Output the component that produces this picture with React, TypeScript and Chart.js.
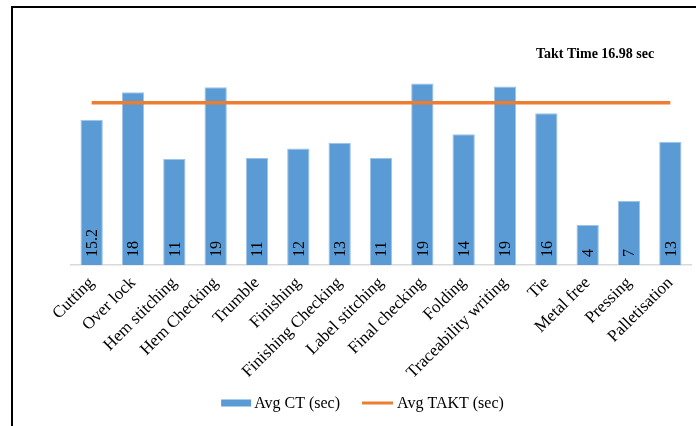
import React, { useEffect, useRef } from "react";
import { Chart, registerables } from "chart.js";

Chart.register(...registerables);

const categories = [
  "Cutting",
  "Over lock",
  "Hem stitching",
  "Hem Checking",
  "Trumble",
  "Finishing",
  "Finishing Checking",
  "Label stitching",
  "Final checking",
  "Folding",
  "Traceability writing",
  "Tie",
  "Metal free",
  "Pressing",
  "Palletisation",
];

const avgCT = [15.2, 18.1, 11.1, 18.6, 11.2, 12.2, 12.8, 11.2, 19.0, 13.7, 18.7, 15.9, 4.2, 6.7, 12.9];
const ctLabels = ["15.2", "18", "11", "19", "11", "12", "13", "11", "19", "14", "19", "16", "4", "7", "13"];
const avgTakt = [16.98, 16.98, 16.98, 16.98, 16.98, 16.98, 16.98, 16.98, 16.98, 16.98, 16.98, 16.98, 16.98, 16.98, 16.98];
const taktNote = "Takt Time 16.98 sec";

const SERIF = '"Liberation Serif", "Times New Roman", serif';

const labelPlugin = {
  id: "ctLabels",
  afterDatasetsDraw(chart: any) {
    const ctx = chart.ctx;
    const meta = chart.getDatasetMeta(0);
    const bottom = chart.chartArea.bottom;
    ctx.save();
    ctx.font = `16px ${SERIF}`;
    ctx.fillStyle = "#000";
    ctx.textAlign = "left";
    ctx.textBaseline = "middle";
    meta.data.forEach((bar: any, i: number) => {
      ctx.save();
      ctx.translate(bar.x, bottom - 8);
      ctx.rotate(-Math.PI / 2);
      ctx.fillText(ctLabels[i], 0, 1);
      ctx.restore();
    });
    ctx.restore();
  },
};

const notePlugin = {
  id: "taktNote",
  afterDraw(chart: any) {
    const ctx = chart.ctx;
    ctx.save();
    ctx.font = `bold 14px ${SERIF}`;
    ctx.fillStyle = "#000";
    ctx.textAlign = "left";
    ctx.textBaseline = "middle";
    ctx.fillText(taktNote, 536, 54);
    ctx.restore();
  },
};

const legendPlugin = {
  id: "customLegend",
  afterDraw(chart: any) {
    const ctx = chart.ctx;
    const ds = chart.data.datasets;
    ctx.save();
    ctx.font = `16px ${SERIF}`;
    ctx.textBaseline = "middle";
    ctx.textAlign = "left";
    const y = 403;
    const w0 = ctx.measureText(ds[0].label).width;
    const w1 = ctx.measureText(ds[1].label).width;
    const total = 30 + 3 + w0 + 22 + 31 + 4 + w1;
    let x = 362.5 - total / 2;
    ctx.fillStyle = ds[0].backgroundColor;
    ctx.fillRect(x, y - 3.5, 30, 7);
    x += 33;
    ctx.fillStyle = "#000";
    ctx.fillText(ds[0].label, x, y + 1);
    x += w0 + 22;
    ctx.strokeStyle = ds[1].borderColor;
    ctx.lineWidth = 3;
    ctx.beginPath();
    ctx.moveTo(x, y);
    ctx.lineTo(x + 31, y);
    ctx.stroke();
    x += 35;
    ctx.fillText(ds[1].label, x, y + 1);
    ctx.restore();
  },
};

export default function App() {
  const ref = useRef<HTMLCanvasElement | null>(null);

  useEffect(() => {
    document.body.style.margin = "0";
    const canvas = ref.current;
    if (!canvas) return;
    const chart = new Chart(canvas, {
      type: "bar",
      data: {
        labels: categories,
        datasets: [
          {
            type: "bar",
            label: "Avg CT (sec)",
            data: avgCT,
            backgroundColor: "#5B9BD5",
            borderColor: "#9DC3E6",
            borderWidth: 1,
            barPercentage: 0.54,
            categoryPercentage: 1,
            order: 2,
          } as any,
          {
            type: "line",
            label: "Avg TAKT (sec)",
            data: avgTakt,
            borderColor: "#ED7D31",
            backgroundColor: "#ED7D31",
            borderWidth: 3.5,
            pointRadius: 0,
            pointHoverRadius: 0,
            fill: false,
            order: 1,
          } as any,
        ],
      },
      options: {
        animation: false,
        responsive: true,
        maintainAspectRatio: false,
        layout: { padding: { top: 74, left: 71, right: 5, bottom: 0 } },
        scales: {
          x: {
            offset: true,
            grid: { display: false },
            border: { display: true, color: "#D9D9D9", width: 1.5 },
            ticks: {
              autoSkip: false,
              maxRotation: 45,
              minRotation: 45,
              color: "#000",
              font: { family: SERIF, size: 17 },
              padding: 0,
            },
            afterFit: (scale: any) => {
              scale.height = 161;
            },
          },
          y: {
            display: false,
            min: 0,
            max: 20,
          },
        },
        plugins: {
          legend: { display: false },
          tooltip: { enabled: false },
        },
      },
      plugins: [labelPlugin, notePlugin, legendPlugin],
    });
    return () => chart.destroy();
  }, []);

  return (
    <div style={{ position: "relative", width: 696, height: 426, overflow: "hidden", background: "#fff" }}>
      <div
        style={{
          position: "absolute",
          left: 11,
          top: 6,
          width: 800,
          height: 500,
          borderTop: "2px solid #000",
          borderLeft: "2px solid #000",
          boxSizing: "border-box",
        }}
      />
      <canvas ref={ref} style={{ position: "absolute", left: 0, top: 0, width: 696, height: 426 }} />
    </div>
  );
}
